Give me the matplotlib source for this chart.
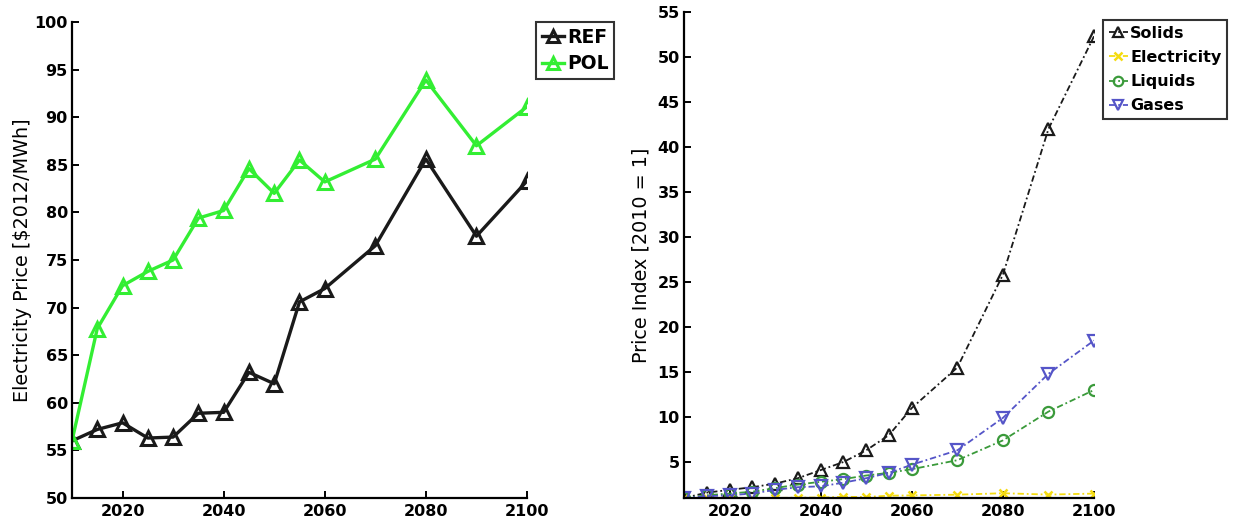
import matplotlib
matplotlib.use("Agg")
import matplotlib.pyplot as plt

plt.rcParams['font.family'] = ['DejaVu Sans']

years = [2010, 2015, 2020, 2025, 2030, 2035, 2040, 2045, 2050, 2055, 2060, 2070, 2080, 2090, 2100]

ref = [56.0, 57.2, 57.9, 56.3, 56.4, 58.9, 59.0, 63.2, 62.0, 70.6, 72.0, 76.5, 85.6, 77.5, 83.3]
pol = [56.0, 67.8, 72.3, 73.8, 75.0, 79.4, 80.2, 84.6, 82.0, 85.5, 83.2, 85.6, 93.9, 87.0, 91.1]

solids = [1.0, 1.6, 1.9, 2.2, 2.6, 3.2, 4.1, 5.0, 6.3, 8.0, 11.0, 15.5, 25.8, 42.0, 52.3]
electricity = [1.0, 1.02, 1.03, 1.0, 1.0, 1.05, 1.05, 1.13, 1.11, 1.26, 1.29, 1.37, 1.53, 1.38, 1.49]
liquids = [1.0, 1.3, 1.5, 1.7, 2.1, 2.5, 2.8, 3.1, 3.5, 3.8, 4.2, 5.2, 7.4, 10.6, 13.0]
gases = [1.0, 1.2, 1.3, 1.5, 1.9, 2.2, 2.3, 2.7, 3.2, 3.8, 4.7, 6.3, 9.9, 14.8, 18.5]

fig = plt.figure(figsize=(12.33, 5.22), dpi=100)

ax1 = fig.add_axes([72 / 1233, 24 / 522, 455 / 1233, 476 / 522])
ax2 = fig.add_axes([684 / 1233, 24 / 522, 410 / 1233, 486 / 522])

for ax in (ax1, ax2):
    ax.spines['top'].set_visible(False)
    ax.spines['right'].set_visible(False)
    ax.spines['left'].set_linewidth(1.6)
    ax.spines['bottom'].set_linewidth(1.6)
    ax.tick_params(direction='in', length=5, width=1.4, labelsize=11.5)
    ax.tick_params(axis='x', pad=4)
    ax.tick_params(axis='y', pad=3)
    ax.set_xlim(2010, 2100)
    ax.set_xticks([2020, 2040, 2060, 2080, 2100])

ax1.plot(years, ref, '-', color='#1a1a1a', lw=2.4, marker='^', ms=10, mfc='none', mew=2.2, label='REF')
ax1.plot(years, pol, '-', color='#33ee33', lw=2.4, marker='^', ms=10, mfc='none', mew=2.2, label='POL')
ax1.set_ylim(50, 100)
ax1.set_yticks(range(50, 101, 5))
ax1.set_ylabel('Electricity Price [$2012/MWh]', fontsize=13.8, labelpad=1.5)
leg1 = ax1.legend(loc='upper left', bbox_to_anchor=(464 / 455, 1.0),
                  prop={'size': 13.5, 'weight': 'bold'}, frameon=True, markerscale=0.8,
                  fancybox=False, edgecolor='black', handlelength=1.2, handletextpad=0.15,
                  borderpad=0.3, labelspacing=0.42, borderaxespad=0)
leg1.get_frame().set_linewidth(1.5)

dd = (3.5, 1.6, 1.0, 1.6)
ax2.plot(years, solids, '-.', dashes=dd, color='#1a1a1a', lw=1.3, marker='^', ms=8, mfc='none', mew=1.6, label='Solids')
ax2.plot(years, electricity, '-.', dashes=dd, color='#f5dc10', lw=1.3, marker='x', ms=6, mew=1.8, label='Electricity')
ax2.plot(years, liquids, '-.', dashes=dd, color='#3a9a3a', lw=1.3, marker='o', ms=8, mfc='none', mew=1.6, label='Liquids')
ax2.plot(years, gases, '-.', dashes=dd, color='#5555c8', lw=1.3, marker='v', ms=8, mfc='none', mew=1.6, label='Gases')
ax2.set_ylim(1, 55)
ax2.set_yticks(range(5, 56, 5))
ax2.set_ylabel('Price Index [2010 = 1]', fontsize=13.8, labelpad=5)
leg2 = ax2.legend(loc='upper left', bbox_to_anchor=(419 / 410, 478 / 486),
                  prop={'size': 11.5, 'weight': 'bold'}, frameon=True, markerscale=0.85,
                  fancybox=False, edgecolor='black', handlelength=1.2, handletextpad=0.15,
                  borderpad=0.35, labelspacing=0.58, borderaxespad=0)
leg2.get_frame().set_linewidth(1.5)

for ax in (ax1, ax2):
    for lab in ax.get_xticklabels() + ax.get_yticklabels():
        lab.set_fontweight('bold')

fig.savefig('out.png', dpi=100)
